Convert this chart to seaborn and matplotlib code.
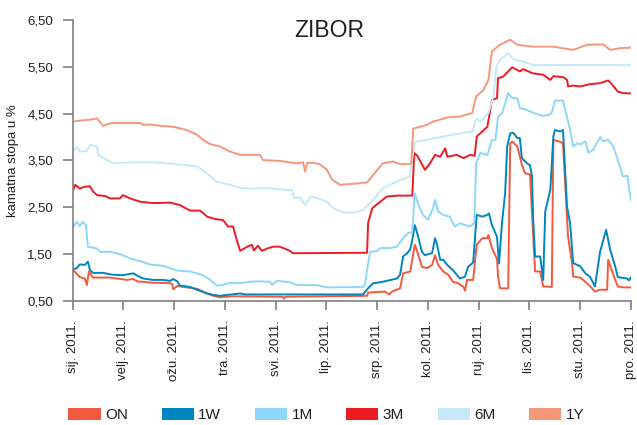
import numpy as np
import pandas as pd
import matplotlib
matplotlib.use("Agg")
import matplotlib.pyplot as plt
from matplotlib.patches import Patch
from matplotlib.ticker import FuncFormatter
import seaborn as sns

# ---------------- data (x in months since 1 Jan 2011) ----------------
month_labels = ["sij. 2011.", "velj. 2011.", "ožu. 2011.", "tra. 2011.", "svi. 2011.",
                "lip. 2011.", "srp. 2011.", "kol. 2011.", "ruj. 2011.", "lis. 2011.",
                "stu. 2011.", "pro. 2011."]
series_names = ["ON", "1W", "1M", "3M", "6M", "1Y"]
series_colors = ["#f15a40", "#0086bf", "#8dd8f8", "#ed1c24", "#c6e9f9", "#f5987a"]
y_ticks = [0.5, 1.5, 2.5, 3.5, 4.5, 5.5, 6.5]

on_t = [0.01, 0.14, 0.24, 0.28, 0.32, 0.40, 0.74, 1.07, 1.19, 1.27, 1.58, 1.92, 1.96, 1.98,
        2.06, 2.25, 2.45, 2.65, 2.77, 2.90, 3.16, 4.14, 4.16, 4.20, 5.80, 5.82, 6.15, 6.24,
        6.29, 6.45, 6.51, 6.65, 6.74, 6.80, 6.88, 6.98, 7.08, 7.14, 7.20, 7.30, 7.40, 7.49,
        7.59, 7.70, 7.73, 7.77, 7.89, 7.96, 8.07, 8.17, 8.19, 8.26, 8.36, 8.38, 8.42, 8.58,
        8.62, 8.66, 8.76, 8.85, 8.91, 9.01, 9.11, 9.21, 9.27, 9.44, 9.47, 9.60, 9.66, 9.76,
        9.84, 9.86, 10.00, 10.10, 10.19, 10.29, 10.39, 10.53, 10.55, 10.65, 10.74, 10.84, 11.00]
on_v = [1.16, 1.01, 0.98, 0.84, 1.13, 1.00, 1.00, 0.95, 0.97, 0.92, 0.89, 0.88, 0.86, 0.75,
        0.82, 0.79, 0.76, 0.66, 0.61, 0.58, 0.60, 0.59, 0.55, 0.59, 0.61, 0.68, 0.70, 0.64,
        0.70, 0.77, 1.09, 1.13, 1.70, 1.52, 1.23, 1.20, 1.27, 1.48, 1.27, 1.13, 1.06, 0.91,
        0.88, 0.80, 0.72, 0.95, 0.95, 1.70, 1.84, 1.84, 1.91, 1.63, 1.40, 1.02, 0.77, 0.77,
        3.87, 3.90, 3.80, 3.41, 3.23, 3.20, 1.13, 1.13, 0.81, 0.80, 3.94, 3.90, 3.87, 1.87,
        1.30, 1.02, 1.00, 0.91, 0.82, 0.70, 0.74, 0.74, 1.38, 1.06, 0.81, 0.79, 0.79]

w1_t = [0.01, 0.08, 0.14, 0.24, 0.30, 0.34, 0.40, 0.60, 0.79, 0.99, 1.19, 1.29, 1.39, 1.58,
        1.78, 1.92, 1.98, 2.06, 2.11, 2.31, 2.45, 2.65, 2.77, 2.90, 3.04, 3.30, 3.40, 5.72,
        5.82, 5.92, 6.06, 6.19, 6.39, 6.45, 6.51, 6.59, 6.65, 6.69, 6.74, 6.80, 6.88, 6.94,
        7.08, 7.14, 7.18, 7.24, 7.30, 7.38, 7.49, 7.63, 7.73, 7.79, 7.89, 7.96, 8.07, 8.17,
        8.20, 8.26, 8.36, 8.40, 8.46, 8.52, 8.56, 8.62, 8.68, 8.76, 8.81, 8.85, 8.95, 9.01,
        9.05, 9.07, 9.11, 9.21, 9.27, 9.31, 9.41, 9.47, 9.50, 9.60, 9.66, 9.74, 9.80, 9.86,
        10.00, 10.10, 10.19, 10.29, 10.39, 10.51, 10.59, 10.69, 10.74, 10.92, 10.96, 11.00]
w1_v = [1.18, 1.20, 1.28, 1.27, 1.34, 1.16, 1.10, 1.10, 1.06, 1.05, 1.09, 1.03, 0.98, 0.95,
        0.95, 0.93, 0.97, 0.92, 0.83, 0.80, 0.74, 0.66, 0.63, 0.61, 0.63, 0.66, 0.64, 0.64,
        0.77, 0.88, 0.90, 0.93, 0.98, 1.06, 1.45, 1.52, 1.60, 1.80, 2.12, 1.90, 1.55, 1.48,
        1.52, 1.84, 1.70, 1.38, 1.38, 1.27, 1.16, 0.98, 1.02, 1.23, 1.32, 2.34, 2.30, 2.34,
        2.37, 2.12, 1.87, 1.30, 2.19, 2.80, 3.80, 4.08, 4.09, 3.98, 3.98, 3.55, 3.44, 3.40,
        3.16, 2.30, 1.45, 1.45, 0.95, 2.41, 2.87, 4.01, 4.15, 4.12, 4.15, 2.51, 2.16, 1.31,
        1.24, 1.09, 1.02, 0.81, 1.55, 2.02, 1.59, 1.23, 1.01, 0.98, 0.94, 1.01]

m1_t = [0.01, 0.08, 0.14, 0.20, 0.26, 0.30, 0.48, 0.54, 0.74, 0.93, 1.13, 1.33, 1.52, 1.78,
        2.06, 2.31, 2.57, 2.71, 2.84, 2.96, 3.10, 3.30, 3.49, 3.69, 3.89, 3.93, 4.02, 4.28,
        4.42, 4.81, 5.01, 5.72, 5.76, 5.80, 5.86, 6.00, 6.06, 6.25, 6.39, 6.51, 6.61, 6.69,
        6.74, 6.80, 6.90, 7.00, 7.10, 7.14, 7.20, 7.30, 7.43, 7.53, 7.63, 7.73, 7.83, 7.91,
        7.95, 8.03, 8.17, 8.26, 8.33, 8.38, 8.46, 8.52, 8.58, 8.66, 8.76, 8.81, 8.95, 9.07,
        9.27, 9.37, 9.44, 9.50, 9.66, 9.72, 9.80, 9.86, 9.94, 10.00, 10.10, 10.16, 10.25,
        10.39, 10.45, 10.55, 10.65, 10.74, 10.84, 10.93, 10.97, 11.00]
m1_v = [2.08, 2.19, 2.10, 2.19, 2.12, 1.66, 1.62, 1.55, 1.55, 1.50, 1.41, 1.35, 1.28, 1.25,
        1.15, 1.13, 1.05, 0.95, 0.83, 0.84, 0.89, 0.88, 0.91, 0.92, 0.91, 0.84, 0.93, 0.90,
        0.84, 0.84, 0.79, 0.80, 0.85, 1.16, 1.55, 1.57, 1.63, 1.63, 1.66, 1.84, 1.95, 1.97,
        2.80, 2.59, 2.34, 2.23, 2.48, 2.66, 2.41, 2.34, 2.30, 2.09, 2.16, 2.12, 2.09, 2.16,
        3.44, 3.66, 3.62, 3.94, 3.94, 4.44, 4.50, 4.72, 4.94, 4.83, 4.83, 4.62, 4.58, 4.52,
        4.45, 4.47, 4.52, 4.78, 4.78, 4.51, 4.15, 3.80, 3.87, 3.84, 3.91, 3.67, 3.72,
        4.00, 3.91, 3.94, 3.80, 3.51, 3.16, 3.17, 2.85, 2.64]

m3_t = [0.01, 0.05, 0.14, 0.24, 0.34, 0.40, 0.48, 0.64, 0.74, 0.93, 0.99, 1.13, 1.33, 1.58,
        1.92, 2.11, 2.31, 2.51, 2.65, 2.80, 2.96, 3.06, 3.16, 3.22, 3.30, 3.44, 3.53, 3.57,
        3.65, 3.73, 3.83, 3.95, 4.08, 4.28, 4.34, 5.80, 5.82, 5.90, 6.06, 6.19, 6.39, 6.69,
        6.73, 6.79, 6.85, 6.94, 7.04, 7.14, 7.24, 7.34, 7.38, 7.57, 7.70, 7.83, 7.92, 7.96,
        8.07, 8.17, 8.26, 8.36, 8.38, 8.48, 8.66, 8.81, 8.87, 9.07, 9.27, 9.41, 9.47, 9.66,
        9.74, 9.76, 9.86, 10.00, 10.19, 10.39, 10.55, 10.63, 10.74, 10.84, 11.00]
m3_v = [2.87, 2.98, 2.90, 2.94, 2.95, 2.84, 2.76, 2.74, 2.69, 2.69, 2.76, 2.69, 2.62, 2.59,
        2.60, 2.55, 2.43, 2.43, 2.30, 2.25, 2.23, 2.09, 2.09, 1.85, 1.57, 1.66, 1.70, 1.58,
        1.68, 1.57, 1.62, 1.66, 1.66, 1.57, 1.52, 1.53, 2.16, 2.48, 2.62, 2.73, 2.75, 2.75,
        3.66, 3.60, 3.48, 3.30, 3.44, 3.62, 3.58, 3.76, 3.58, 3.62, 3.55, 3.62, 3.60, 4.01,
        4.12, 4.22, 4.79, 4.83, 5.26, 5.29, 5.49, 5.40, 5.45, 5.36, 5.33, 5.22, 5.30, 5.28,
        5.22, 5.08, 5.10, 5.08, 5.13, 5.15, 5.21, 5.12, 4.97, 4.94, 4.93]

m6_t = [0.01, 0.08, 0.14, 0.28, 0.34, 0.48, 0.50, 0.68, 0.79, 1.19, 1.58, 1.86, 2.25, 2.45,
        2.64, 2.84, 3.10, 3.30, 3.55, 3.83, 4.22, 4.32, 4.36, 4.48, 4.58, 4.68, 4.81, 5.01,
        5.13, 5.33, 5.56, 5.72, 5.86, 6.11, 6.39, 6.64, 6.74, 6.98, 7.24, 7.49, 7.88, 7.95,
        8.03, 8.19, 8.29, 8.35, 8.42, 8.58, 8.68, 8.87, 9.07, 11.00]
m6_v = [3.69, 3.80, 3.69, 3.70, 3.83, 3.80, 3.62, 3.51, 3.44, 3.46, 3.46, 3.44, 3.40, 3.37,
        3.23, 3.05, 2.98, 2.91, 2.90, 2.91, 2.87, 2.87, 2.70, 2.71, 2.55, 2.73, 2.70, 2.62,
        2.48, 2.39, 2.39, 2.44, 2.59, 2.91, 3.05, 3.16, 3.90, 3.94, 4.00, 4.05, 4.12, 4.40,
        4.33, 4.51, 4.87, 5.51, 5.65, 5.79, 5.66, 5.61, 5.54, 5.54]

y1_t = [0.01, 0.14, 0.34, 0.48, 0.54, 0.60, 0.70, 0.79, 1.33, 1.39, 1.52, 1.72, 1.98, 2.25,
        2.45, 2.57, 2.71, 2.90, 3.10, 3.30, 3.69, 3.75, 4.08, 4.42, 4.54, 4.58, 4.62, 4.74,
        4.87, 5.01, 5.11, 5.27, 5.60, 5.80, 5.92, 6.11, 6.31, 6.45, 6.67, 6.71, 6.85, 6.98,
        7.10, 7.24, 7.38, 7.63, 7.87, 7.95, 8.09, 8.19, 8.26, 8.42, 8.62, 8.76, 9.07, 9.47,
        9.86, 10.13, 10.45, 10.59, 10.79, 11.00]
y1_v = [4.33, 4.35, 4.37, 4.40, 4.32, 4.24, 4.28, 4.30, 4.30, 4.26, 4.27, 4.24, 4.22, 4.15,
        4.05, 3.94, 3.85, 3.80, 3.69, 3.62, 3.62, 3.51, 3.49, 3.44, 3.46, 3.26, 3.45, 3.45,
        3.42, 3.30, 3.09, 2.98, 3.01, 3.03, 3.19, 3.44, 3.48, 3.42, 3.43, 4.18, 4.22, 4.26,
        4.33, 4.37, 4.42, 4.44, 4.51, 4.87, 5.00, 5.22, 5.83, 5.97, 6.08, 5.97, 5.93, 5.93,
        5.86, 5.97, 5.98, 5.86, 5.90, 5.91]

series_t = [on_t, w1_t, m1_t, m3_t, m6_t, y1_t]
series_v = [on_v, w1_v, m1_v, m3_v, m6_v, y1_v]

frames = [pd.DataFrame({"t": t, "v": v, "series": name})
          for name, t, v in zip(series_names, series_t, series_v)]
df = pd.concat(frames, ignore_index=True)

# ---------------- style ----------------
sns.set_style("white")
plt.rcParams["font.family"] = ["Liberation Sans", "DejaVu Sans"]
text_color = "#231f20"
axis_color = "#7f7f7f"

fig = plt.figure(figsize=(6.37, 4.25), dpi=100)
ax = fig.add_axes([0.1141, 0.2918, 0.8765, 0.6612])

sns.lineplot(data=df, x="t", y="v", hue="series", hue_order=series_names,
             palette=dict(zip(series_names, series_colors)), estimator=None,
             sort=False, linewidth=1.4, legend=False, ax=ax)

ax.set_xlim(0, 11)
ax.set_ylim(y_ticks[0], y_ticks[-1])
ax.set_xticks(range(len(month_labels)))
ax.set_xticklabels(month_labels, rotation=90, va="top", ha="center")
ax.set_yticks(y_ticks)
ax.yaxis.set_major_formatter(FuncFormatter(lambda v, p: f"{v:.2f}".replace(".", ",")))

for s in ["top", "right"]:
    ax.spines[s].set_visible(False)
for s in ["left", "bottom"]:
    ax.spines[s].set_color(axis_color)
    ax.spines[s].set_linewidth(1.2)

ax.tick_params(axis="y", direction="out", length=7.2, width=1.2, color=axis_color,
               pad=7, labelsize=9.5, labelcolor=text_color, left=True)
ax.tick_params(axis="x", direction="out", length=6.5, width=1.2, color=axis_color,
               pad=7.5, labelsize=9.5, labelcolor=text_color, bottom=True)

ax.set_xlabel("")
ax.set_ylabel("kamatna stopa u %", fontsize=9.5, color=text_color)
ax.yaxis.set_label_coords(-0.097, 0.5)

fig.text(0.517, 0.929, "ZIBOR", ha="center", va="center", fontsize=16.5, color=text_color)

handles = [Patch(facecolor=c, edgecolor="none", label=n)
           for n, c in zip(series_names, series_colors)]
fig.legend(handles=handles, loc="center", bbox_to_anchor=(0.5126, 0.0235), ncol=6,
           frameon=False, fontsize=11, handlelength=2.1, handleheight=0.85,
           handletextpad=0.3, columnspacing=2.2, labelcolor=text_color)

fig.savefig("out.png", dpi=100)
